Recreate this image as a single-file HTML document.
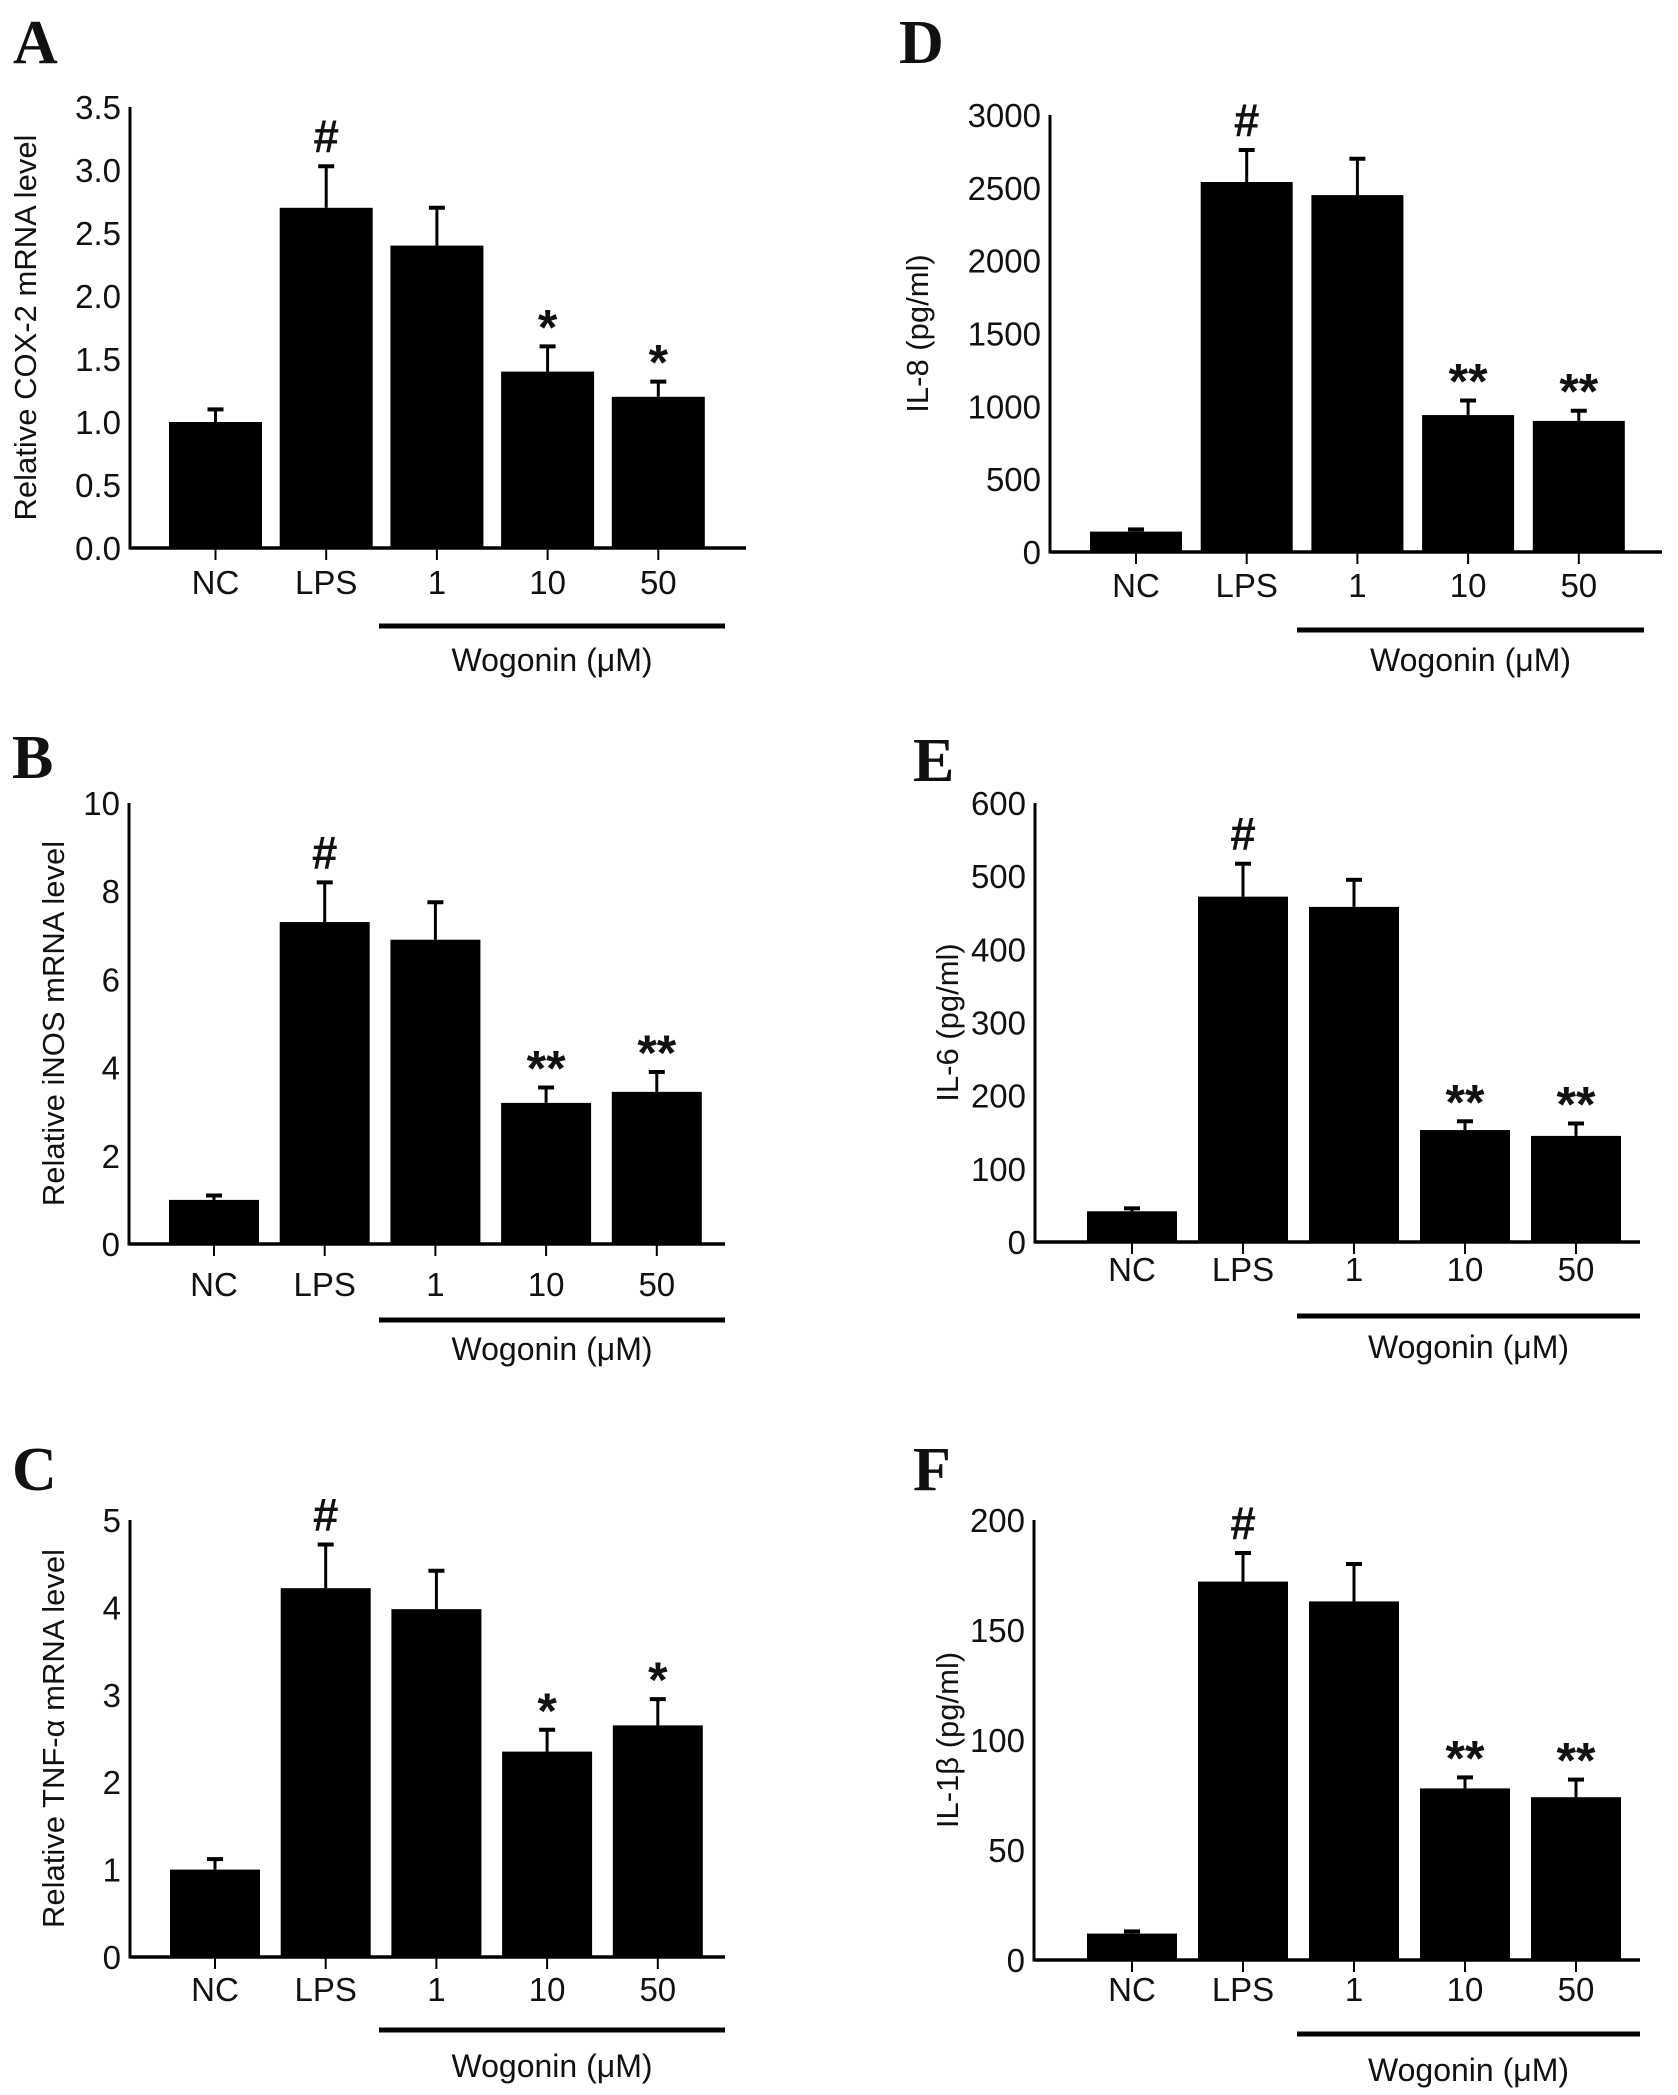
<!DOCTYPE html>
<html><head><meta charset="utf-8"><style>
html,body{margin:0;padding:0;background:#fff}
svg{display:block}
text{font-family:"Liberation Sans",sans-serif;fill:#111}
.let{font-family:"Liberation Serif",serif;font-weight:bold;font-size:62px}
</style></head><body>
<svg id="fig" width="1678" height="2095" viewBox="0 0 1678 2095"></svg>
<script>
const categories = ["NC","LPS","1","10","50"];
const valsA = [1.0, 2.7, 2.4, 1.4, 1.2];
const errA  = [1.1, 3.03, 2.7, 1.6, 1.32];
const sigA  = ["", "#", "", "*", "*"];
const ticksA = ["0.0","0.5","1.0","1.5","2.0","2.5","3.0","3.5"];
const valsB = [1.0, 7.3, 6.9, 3.2, 3.45];
const errB  = [1.1, 8.2, 7.75, 3.55, 3.9];
const sigB  = ["", "#", "", "**", "**"];
const ticksB = ["0","2","4","6","8","10"];
const valsC = [1.0, 4.22, 3.98, 2.35, 2.65];
const errC  = [1.12, 4.72, 4.42, 2.6, 2.95];
const sigC  = ["", "#", "", "*", "*"];
const ticksC = ["0","1","2","3","4","5"];
const valsD = [140, 2540, 2450, 940, 900];
const errD  = [155, 2760, 2700, 1040, 970];
const sigD  = ["", "#", "", "**", "**"];
const ticksD = ["0","500","1000","1500","2000","2500","3000"];
const valsE = [42, 472, 458, 153, 145];
const errE  = [46, 517, 495, 165, 162];
const sigE  = ["", "#", "", "**", "**"];
const ticksE = ["0","100","200","300","400","500","600"];
const valsF = [12, 172, 163, 78, 74];
const errF  = [13, 185, 180, 83, 82];
const sigF  = ["", "#", "", "**", "**"];
const ticksF = ["0","50","100","150","200"];

const NS = "http://www.w3.org/2000/svg";
const svg = document.getElementById("fig");
function mk(tag, attrs, parent, txt){
  const e = document.createElementNS(NS, tag);
  for (const k in attrs) e.setAttribute(k, attrs[k]);
  if (txt !== undefined) e.textContent = txt;
  (parent || svg).appendChild(e);
  return e;
}
function panel(p){
  const g = mk("g", {});
  
  
  const L = mk("text", {x:p.lx, y:p.ly, class:"let"}, g, p.letter);
  
  
  const tmax = parseFloat(p.ticks[p.ticks.length-1]);
  const y = v => p.y0 - (v / tmax) * (p.y0 - p.yTop);
  const x = i => p.bx + i * p.pitch;
  p.vals.forEach((v, i) => {
    const cx = x(i) + p.bw/2;
    const ey = y(p.errs[i]);
    const el = mk("line", {x1:cx, x2:cx, y1:y(v), y2:ey, stroke:"#000", "stroke-width":3}, g);
    
    
    const cap = mk("line", {x1:cx-8, x2:cx+8, y1:ey, y2:ey, stroke:"#000", "stroke-width":4}, g);
    
    
    const r = mk("rect", {x:x(i), y:y(v), width:p.bw, height:p.y0 - y(v), fill:"#000"}, g);
    
    
    if (p.sig[i]) {
      const s = mk("text", {x:cx, y:ey - (p.sig[i]==="#"?14:2), "text-anchor":"middle", "font-size":p.sig[i]==="#"?46:50, "font-weight":"bold"}, g, p.sig[i]);
      
      
    }
    const tk = mk("line", {x1:cx, x2:cx, y1:p.y0, y2:p.y0+12, stroke:"#000", "stroke-width":2}, g);
    
    
    const lb = mk("text", {x:cx, y:p.labY, "text-anchor":"middle", "font-size":33}, g, categories[i]);
    
    
  });
  const ya = mk("line", {x1:p.ax, x2:p.ax, y1:p.yTop, y2:p.y0+1.5, stroke:"#000", "stroke-width":3}, g);
  
  
  const xa = mk("line", {x1:p.ax, x2:p.axR, y1:p.y0, y2:p.y0, stroke:"#000", "stroke-width":3.5}, g);
  
  
  p.ticks.forEach(t => {
    const ty = y(parseFloat(t));
    const tl = mk("text", {x:p.ax-9, y:ty+12, "text-anchor":"end", "font-size":33}, g, t);
    
    
  });
  const yt = mk("text", {x:0, y:0, "text-anchor":"middle", "font-size":31, transform:`translate(${p.tx},${(p.yTop+p.y0)/2}) rotate(-90)`}, g, p.title);
  
  
  const wl = mk("line", {x1:p.wx1, x2:p.wx2, y1:p.wy, y2:p.wy, stroke:"#000", "stroke-width":5}, g);
  
  
  const wt = mk("text", {x:(p.wx1+p.wx2)/2, y:p.wty, "text-anchor":"middle", "font-size":32}, g, "Wogonin (\u03BCM)");
  
  
}
panel({letter:"A", lx:13, ly:63, vals:valsA, errs:errA, sig:sigA, ticks:ticksA, ax:130, axR:746, yTop:107, y0:548,
  bx:169, bw:93, pitch:110.7, labY:594, tx:36, title:"Relative COX-2 mRNA level", wx1:379, wx2:725, wy:626, wty:671});
panel({letter:"D", lx:899, ly:63, vals:valsD, errs:errD, sig:sigD, ticks:ticksD, ax:1050, axR:1662, yTop:115, y0:552,
  bx:1090, bw:92, pitch:110.7, labY:597, tx:928, title:"IL-8 (pg/ml)", wx1:1297, wx2:1644, wy:630, wty:671});
panel({letter:"B", lx:12, ly:778, vals:valsB, errs:errB, sig:sigB, ticks:ticksB, ax:129, axR:725, yTop:803, y0:1244,
  bx:169, bw:90, pitch:110.7, labY:1296, tx:64, title:"Relative iNOS mRNA level", wx1:379, wx2:725, wy:1320, wty:1360});
panel({letter:"E", lx:913, ly:781, vals:valsE, errs:errE, sig:sigE, ticks:ticksE, ax:1035, axR:1640, yTop:803, y0:1242,
  bx:1087, bw:90, pitch:111, labY:1281, tx:958, title:"IL-6 (pg/ml)", wx1:1297, wx2:1640, wy:1316, wty:1358});
panel({letter:"C", lx:12, ly:1490, vals:valsC, errs:errC, sig:sigC, ticks:ticksC, ax:130, axR:725, yTop:1520, y0:1957,
  bx:170, bw:90, pitch:110.7, labY:2001, tx:64, title:"Relative TNF-\u03B1 mRNA level", wx1:379, wx2:725, wy:2030, wty:2077});
panel({letter:"F", lx:913, ly:1490, vals:valsF, errs:errF, sig:sigF, ticks:ticksF, ax:1034, axR:1640, yTop:1520, y0:1960,
  bx:1087, bw:90, pitch:111, labY:2001, tx:958, title:"IL-1\u03B2 (pg/ml)", wx1:1297, wx2:1640, wy:2034, wty:2081});
</script>
</body></html>
